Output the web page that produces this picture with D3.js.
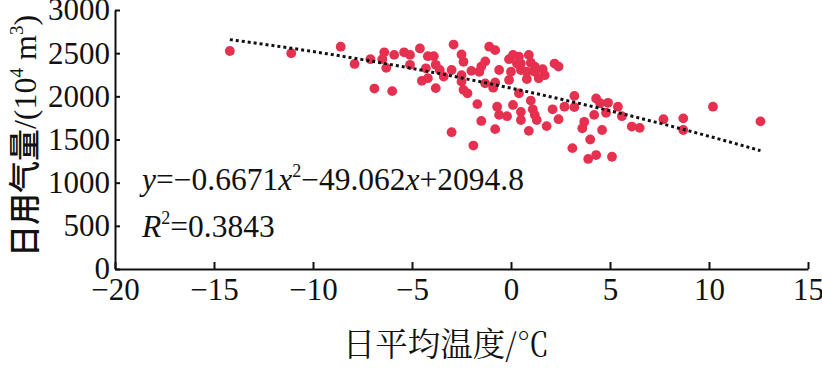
<!DOCTYPE html>
<html>
<head>
<meta charset="utf-8">
<script src="https://cdn.jsdelivr.net/npm/d3@7"></script>
<style>
  body { margin: 0; background: #fff; }
  .axis path, .axis line { stroke: #111; stroke-width: 2; }
</style>
</head>
<body>
<div id="chart"></div>
<script>
// daily mean temperature (°C) and daily gas use (10^4 m3)
var temp = [-14.2, -11.1, -8.6, -7.9, -7.1, -6.4, -6.5, -6.3, -5.9, -5.4, -6.9, -6.0,
  -5.1, -4.6, -4.2, -3.9, -2.9, -2.5, -2.4, -1.1, -0.8, -0.1, 0.1, 0.4, 0.9, 1.0, 0.5, 0.3,
  2.2, 2.4, 1.2, -1.3, -1.5, -5.1, -4.3, -3.8, -3.6, -3.0, -3.4, -2.5, -2.0, -1.6, -0.6, 0.0,
  0.5, 0.8, 1.2, 1.6, 1.7, 1.4, 0.8, -0.1, -4.5, -4.2, -2.5, -1.3, -0.9, -0.8, -3.8, -2.4,
  -2.2, 0.4, -1.7, -0.7, -0.6, -0.2, 0.1, 0.5, 1.0, 1.1, 1.2, 1.3, 0.5, 1.8, -1.5, -0.8,
  0.9, -3.0, -1.9, 2.1, 2.7, 2.4, 3.2, 3.2, 3.7, 3.6, 4.0, 3.1, 4.3, 4.2, 4.5, 4.9, 5.4,
  4.8, 5.6, 4.6, 6.1, 6.5, 7.7, 8.7, 8.7, 10.2, 12.6, 3.9, 4.3, 5.1];
var gas = [2525, 2500, 2575, 2375, 2430, 2510, 2430, 2330, 2480, 2510, 2090, 2060,
  2480, 2555, 2465, 2465, 2600, 2485, 2400, 2575, 2535, 2430, 2480, 2460, 2480, 2390, 2380, 2380,
  2380, 2345, 2345, 2405, 2345, 2365, 2325, 2365, 2305, 2305, 2230, 2245, 2295, 2285, 2305, 2285,
  2305, 2285, 2285, 2315, 2245, 2210, 2200, 2190, 2180, 2210, 2170, 2150, 2100, 2160, 2095, 2075,
  2035, 2035, 1910, 1880, 1785, 1770, 1900, 1820, 1950, 1850, 1785, 1725, 1725, 1655, 1715, 1620,
  1600, 1585, 1430, 1850, 1880, 1735, 2005, 1875, 1705, 1630, 1500, 1400, 1975, 1785, 1920, 1925, 1880,
  1810, 1770, 1610, 1650, 1635, 1735, 1745, 1610, 1880, 1710, 1275, 1320, 1300];

var xTicks = [-20, -15, -10, -5, 0, 5, 10, 15];
var yTicks = [0, 500, 1000, 1500, 2000, 2500, 3000];
// fitted trend: y = a x^2 + b x + c, drawn over the data range
var fit = {a: -0.6671, b: -49.062, c: 2094.8};

var width = 822, height = 368;
var serif = "Liberation Serif";

var svg = d3.select("#chart").append("svg")
    .attr("width", width)
    .attr("height", height);

var x = d3.scaleLinear().domain([-20, 15]).range([115, 808]);
var y = d3.scaleLinear().domain([0, 3000]).range([269, 10]);

// points first, axes drawn on top
svg.selectAll(".dot")
    .data(d3.range(temp.length))
  .enter().append("circle")
    .attr("class", "dot")
    .attr("cx", function(i) { return x(temp[i]); })
    .attr("cy", function(i) { return y(gas[i]); })
    .attr("r", 4.9)
    .attr("fill", "#e6304f");

// dotted trend line
var tMin = d3.min(temp), tMax = d3.max(temp);
var curve = d3.range(0, 61).map(function(k) {
  var t = tMin + (tMax - tMin) * k / 60;
  return [t, fit.a * t * t + fit.b * t + fit.c];
});
svg.append("path")
    .datum(curve)
    .attr("fill", "none")
    .attr("stroke", "#111")
    .attr("stroke-width", 3)
    .attr("stroke-dasharray", "3,3")
    .attr("d", d3.line()
      .x(function(d) { return x(d[0]); })
      .y(function(d) { return y(d[1]); }));

var xAxis = svg.append("g")
    .attr("class", "axis")
    .attr("transform", "translate(0," + y(0) + ")")
    .call(d3.axisBottom(x).tickValues(xTicks).tickSizeInner(-7).tickSizeOuter(0).tickPadding(9));

var yAxis = svg.append("g")
    .attr("class", "axis")
    .attr("transform", "translate(" + x(-20) + ",0)")
    .call(d3.axisLeft(y).tickValues(yTicks).tickFormat(d3.format("d"))
      .tickSizeInner(-5).tickSizeOuter(0).tickPadding(5));

svg.selectAll(".axis text")
    .style("font-family", serif)
    .style("font-size", "31px")
    .attr("fill", "#111");

// equation and R2
var eq = svg.append("text")
    .attr("x", 142).attr("y", 190)
    .style("font-family", serif)
    .style("font-size", "31.5px")
    .attr("fill", "#111");
eq.append("tspan").style("font-style", "italic").text("y");
eq.append("tspan").text("=\u22120.6671");
eq.append("tspan").style("font-style", "italic").text("x");
eq.append("tspan").attr("dy", -13).style("font-size", "18px").text("2");
eq.append("tspan").attr("dy", 13).text("\u221249.062");
eq.append("tspan").style("font-style", "italic").text("x");
eq.append("tspan").text("+2094.8");

var r2 = svg.append("text")
    .attr("x", 142).attr("y", 237)
    .style("font-family", serif)
    .style("font-size", "31.5px")
    .attr("fill", "#111");
r2.append("tspan").style("font-style", "italic").text("R");
r2.append("tspan").attr("dy", -13).style("font-size", "18px").text("2");
r2.append("tspan").attr("dy", 13).text("=0.3843");

// axis titles
svg.append("text")
    .attr("x", 446).attr("y", 356)
    .attr("text-anchor", "middle")
    .style("font-family", "Noto Serif CJK SC")
    .style("font-size", "32.5px")
    .attr("fill", "#111")
    .text("日平均温度/℃");

var yt = svg.append("text")
    .attr("transform", "translate(36,136) rotate(-90)")
    .attr("text-anchor", "middle")
    .style("font-family", serif)
    .style("font-size", "32px")
    .attr("fill", "#111");
yt.append("tspan").style("font-family", "Noto Sans CJK SC").style("font-weight", 500).text("日用气量");
yt.append("tspan").text("/(10");
yt.append("tspan").style("font-size", "19px").attr("dy", -13).text("4");
yt.append("tspan").attr("dy", 13).text(" m");
yt.append("tspan").style("font-size", "19px").attr("dy", -13).text("3");
yt.append("tspan").attr("dy", 13).text(")");
</script>
</body>
</html>
